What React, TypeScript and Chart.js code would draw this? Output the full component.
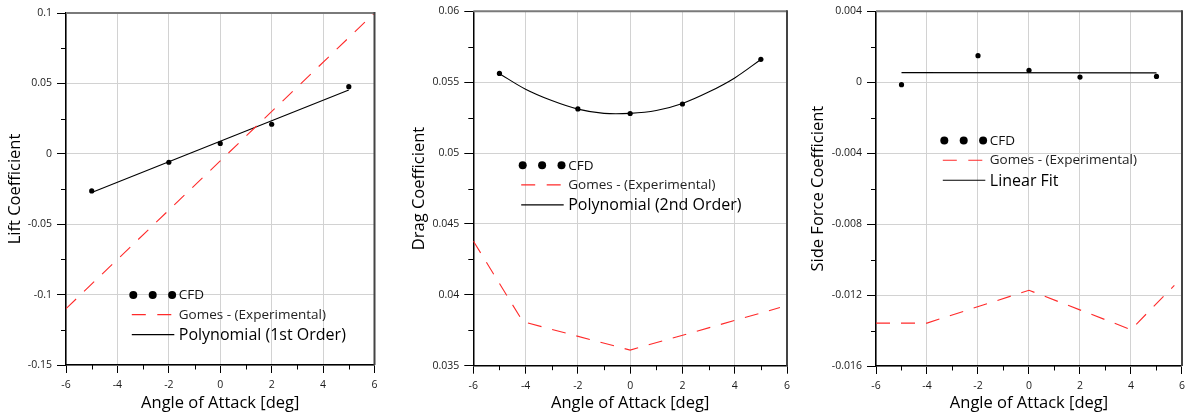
import React, { useEffect, useRef } from 'react';
import { Chart, registerables } from 'chart.js';

Chart.register(...registerables);

// ---- Data -------------------------------------------------------------
const angleCFD = [-5, -2, 0, 2, 5];

const liftCFD = [-0.0264, -0.006, 0.0074, 0.021, 0.0477];
const liftFitAngle = [-5, 5];
const liftFit = [-0.0275, 0.0453];
const liftExpAngle = [-6, 6];
const liftExp = [-0.11, 0.1];

const dragCFD = [0.05562, 0.05311, 0.05279, 0.05346, 0.05661];
const dragFitAngle = [-5, -4, -3, -2, -1, 0, 1, 2, 3, 4, 5];
const dragFit = [0.0556, 0.0545, 0.0537, 0.0531, 0.0528, 0.0528, 0.053, 0.0535, 0.0543, 0.0553, 0.0566];
const dragExpAngle = [-6, -4.1, 0, 5.73];
const dragExp = [0.0438, 0.0381, 0.0361, 0.0391];

const sideCFD = [-0.00014, 0.0015, 0.00067, 0.00029, 0.00033];
const sideFitAngle = [-5, 5];
const sideFit = [0.00054, 0.00053];
const sideExpAngle = [-6, -4, 0, 4, 5.7];
const sideExp = [-0.01358, -0.01358, -0.01173, -0.01395, -0.01145];

const angleTicks = ['-6', '-4', '-2', '0', '2', '4', '6'];
const liftTicks = ['-0.15', '-0.1', '-0.05', '0', '0.05', '0.1'];
const dragTicks = ['0.035', '0.04', '0.045', '0.05', '0.055', '0.06'];
const sideTicks = ['-0.016', '-0.012', '-0.008', '-0.004', '0', '0.004'];

const FONT = '"Open Sans", "Noto Sans", sans-serif';

type Panel = {
  left: number;
  width: number;
  yAxisWidth: number;
  xAxisHeight: number;
  padTop: number;
  padRight: number;
  yTitle: string;
  yTitlePad: number;
  yMin: number;
  yMax: number;
  yStep: number;
  yLabels: string[];
  cfd: number[];
  expX: number[];
  exp: number[];
  fitX: number[];
  fit: number[];
  fitLabel: string;
  tension: number;
  legendDx: number;
  legendDy: number;
};

const panels: Panel[] = [
  {
    left: 0, width: 398, yAxisWidth: 66, xAxisHeight: 52, padTop: 13, padRight: 23.5,
    yTitle: 'Lift Coefficient', yTitlePad: 5,
    yMin: -0.15, yMax: 0.1, yStep: 0.05, yLabels: liftTicks,
    cfd: liftCFD, expX: liftExpAngle, exp: liftExp, fitX: liftFitAngle, fit: liftFit,
    fitLabel: 'Polynomial (1st Order)', tension: 0,
    legendDx: 67.3, legendDy: 282,
  },
  {
    left: 398, width: 400, yAxisWidth: 75.3, xAxisHeight: 51.3, padTop: 7, padRight: 11,
    yTitle: 'Drag Coefficient', yTitlePad: 11.4,
    yMin: 0.035, yMax: 0.06, yStep: 0.005, yLabels: dragTicks,
    cfd: dragCFD, expX: dragExpAngle, exp: dragExp, fitX: dragFitAngle, fit: dragFit,
    fitLabel: 'Polynomial (2nd Order)', tension: 0.35,
    legendDx: 49.4, legendDy: 154,
  },
  {
    left: 798, width: 393, yAxisWidth: 78, xAxisHeight: 51, padTop: 11, padRight: 5,
    yTitle: 'Side Force Coefficient', yTitlePad: 10.4,
    yMin: -0.016, yMax: 0.004, yStep: 0.004, yLabels: sideTicks,
    cfd: sideCFD, expX: sideExpAngle, exp: sideExp, fitX: sideFitAngle, fit: sideFit,
    fitLabel: 'Linear Fit', tension: 0,
    legendDx: 68.3, legendDy: 129.3,
  },
];

const xy = (xs: number[], ys: number[]) => xs.map((x, i) => ({ x, y: ys[i] }));

// Short minor ticks halfway between the labelled ticks, plus the top/right frame.
const framePlugin = {
  id: 'frameTicks',
  afterDraw(chart: any) {
    const { ctx, chartArea } = chart;
    const xs = chart.scales.x;
    const ys = chart.scales.y;
    ctx.save();
    ctx.strokeStyle = '#000';
    ctx.lineWidth = 1;
    ctx.beginPath();
    for (let i = 0; i < xs.ticks.length - 1; i++) {
      const px = Math.round(xs.getPixelForValue((xs.ticks[i].value + xs.ticks[i + 1].value) / 2)) + 0.5;
      ctx.moveTo(px, chartArea.bottom);
      ctx.lineTo(px, chartArea.bottom + 4.5);
    }
    for (let i = 0; i < ys.ticks.length - 1; i++) {
      const py = Math.round(ys.getPixelForValue((ys.ticks[i].value + ys.ticks[i + 1].value) / 2)) + 0.5;
      ctx.moveTo(chartArea.left, py);
      ctx.lineTo(chartArea.left - 5, py);
    }
    ctx.stroke();

    ctx.lineWidth = 2;
    ctx.strokeStyle = '#7a7a7a';
    ctx.beginPath();
    ctx.moveTo(chartArea.left, chartArea.top);
    ctx.lineTo(chartArea.right, chartArea.top);
    ctx.stroke();
    ctx.strokeStyle = '#444';
    ctx.beginPath();
    ctx.moveTo(chartArea.right, chartArea.top - 1);
    ctx.lineTo(chartArea.right, chartArea.bottom);
    ctx.stroke();
    ctx.restore();
  },
};

// In-plot legend: three dots for CFD, a dashed red sample and a solid fit sample.
const legendPlugin = {
  id: 'panelLegend',
  afterDraw(chart: any, _args: any, opts: any) {
    const { ctx, chartArea } = chart;
    const x0 = chartArea.left + opts.dx;
    const y0 = chartArea.top + opts.dy;
    const textX = x0 + 45.5;
    ctx.save();
    ctx.fillStyle = '#000';
    for (let k = 0; k < 3; k++) {
      ctx.beginPath();
      ctx.arc(x0 + k * 19.4, y0, 4, 0, Math.PI * 2);
      ctx.fill();
    }
    ctx.textBaseline = 'middle';
    ctx.textAlign = 'left';
    ctx.font = `13.5px ${FONT}`;
    ctx.fillStyle = '#111';
    ctx.fillText(opts.labels[0], textX, y0 + 0.5);

    ctx.strokeStyle = '#ff2a2a';
    ctx.lineWidth = 1.1;
    ctx.setLineDash([14, 11.5]);
    ctx.beginPath();
    ctx.moveTo(x0 - 1.5, y0 + 19.6);
    ctx.lineTo(x0 + 40, y0 + 19.6);
    ctx.stroke();
    ctx.setLineDash([]);
    ctx.fillStyle = '#222';
    ctx.fillText(opts.labels[1], textX, y0 + 20);

    ctx.strokeStyle = '#000';
    ctx.beginPath();
    ctx.moveTo(x0 - 1.5, y0 + 39.6);
    ctx.lineTo(x0 + 41, y0 + 39.6);
    ctx.stroke();
    ctx.font = `16px ${FONT}`;
    ctx.fillStyle = '#000';
    ctx.fillText(opts.labels[2], textX, y0 + 40.5);
    ctx.restore();
  },
};

function buildConfig(p: Panel): any {
  return {
    type: 'scatter',
    data: {
      datasets: [
        {
          label: 'Gomes - (Experimental)',
          data: xy(p.expX, p.exp),
          showLine: true,
          borderColor: '#ff2a2a',
          borderWidth: 1.1,
          borderDash: [14, 11],
          pointRadius: 0,
        },
        {
          label: p.fitLabel,
          data: xy(p.fitX, p.fit),
          showLine: true,
          borderColor: '#000',
          borderWidth: 1.1,
          pointRadius: 0,
          tension: p.tension,
        },
        {
          label: 'CFD',
          data: xy(angleCFD, p.cfd),
          showLine: false,
          pointRadius: 2.6,
          pointBackgroundColor: '#000',
          pointBorderWidth: 0,
        },
      ],
    },
    options: {
      responsive: false,
      animation: false,
      events: [],
      layout: { padding: { top: p.padTop, right: p.padRight, bottom: 0, left: 0 } },
      plugins: {
        legend: { display: false },
        tooltip: { enabled: false },
        panelLegend: {
          dx: p.legendDx,
          dy: p.legendDy,
          labels: ['CFD', 'Gomes - (Experimental)', p.fitLabel],
        },
      },
      scales: {
        x: {
          type: 'linear',
          min: -6,
          max: 6,
          ticks: {
            stepSize: 2,
            padding: 6,
            color: '#1a1a1a',
            font: { family: FONT, size: 10.5 },
            callback: (_v: any, i: number) => angleTicks[i],
          },
          grid: { color: '#d2d2d2', lineWidth: 1, tickColor: '#000', tickLength: 8, tickWidth: 1 },
          border: { display: true, color: '#000', width: 1.5 },
          title: {
            display: true,
            text: 'Angle of Attack [deg]',
            color: '#000',
            font: { family: FONT, size: 16.5 },
            padding: { top: 0, bottom: 4 },
          },
          afterFit: (s: any) => { s.height = p.xAxisHeight; },
        },
        y: {
          type: 'linear',
          min: p.yMin,
          max: p.yMax,
          ticks: {
            stepSize: p.yStep,
            padding: 5,
            color: '#1a1a1a',
            font: { family: FONT, size: 10.5 },
            callback: (_v: any, i: number) => p.yLabels[i],
          },
          grid: { color: '#d2d2d2', lineWidth: 1, tickColor: '#000', tickLength: 9, tickWidth: 1 },
          border: { display: true, color: '#000', width: 1.5 },
          title: {
            display: true,
            text: p.yTitle,
            color: '#000',
            font: { family: FONT, size: 16.5 },
            padding: { top: p.yTitlePad, bottom: 0 },
          },
          afterFit: (s: any) => { s.width = p.yAxisWidth; },
        },
      },
    },
    plugins: [framePlugin, legendPlugin],
  };
}

function PanelChart({ p }: { p: Panel }) {
  const ref = useRef<HTMLCanvasElement | null>(null);
  useEffect(() => {
    if (!ref.current) return;
    const chart = new Chart(ref.current, buildConfig(p));
    return () => chart.destroy();
  }, [p]);
  return (
    <canvas
      ref={ref}
      width={p.width}
      height={417}
      style={{ position: 'absolute', left: p.left, top: 0, width: p.width, height: 417 }}
    />
  );
}

export default function App() {
  return (
    <div
      style={{
        position: 'fixed',
        left: 0,
        top: 0,
        width: 1191,
        height: 417,
        background: '#fff',
        overflow: 'hidden',
      }}
    >
      {panels.map((p) => (
        <PanelChart key={p.yTitle} p={p} />
      ))}
    </div>
  );
}
